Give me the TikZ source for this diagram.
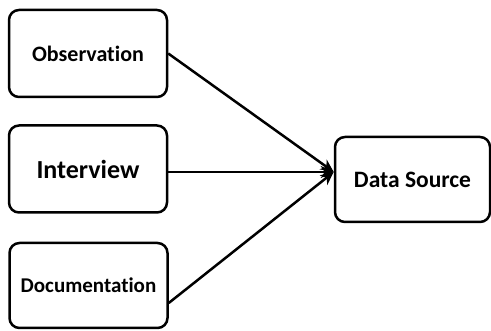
\documentclass[tikz,border=0pt]{standalone}
\usepackage{fontspec}
\setmainfont{Carlito}[Ligatures=NoCommon]
\usetikzlibrary{arrows.meta}

\tikzset{
    srcbox/.style={draw=black, line width=2.5pt, rounded corners=10pt, fill=white,
        minimum width=158pt, minimum height=87pt, inner sep=0pt, font=\bfseries\fontsize{22}{25}\selectfont},
    link/.style={-{Stealth[length=13pt, width=12pt, inset=4pt]}, line width=2.5pt}
}

\begin{document}
\begin{tikzpicture}[x=1pt,y=-1pt]

    \useasboundingbox (0,0) rectangle (491,331);

    % sources
    \node[srcbox] (obs) at (88,53.5) {Observation};
    \node[srcbox, font=\bfseries\fontsize{26}{29}\selectfont] (intv) at (88,169) {Interview};
    \node[srcbox, minimum height=85pt, font=\bfseries\fontsize{21}{24}\selectfont] (doc) at (88.5,285.5) {Documentation};

    % target
    \node[srcbox, minimum width=155pt, minimum height=85pt, font=\bfseries\fontsize{23.5}{26}\selectfont] (ds) at (412.5,179.5) {Data Source};
    \coordinate (tip) at ([yshift=7.5pt]ds.west);

    % arrows
    \draw[link] (obs.east) -- (tip);
    \draw[link] ([yshift=-3pt]intv.east) -- (tip);
    \draw[link] ([yshift=-17.5pt]doc.east) -- (tip);

\end{tikzpicture}
\end{document}
